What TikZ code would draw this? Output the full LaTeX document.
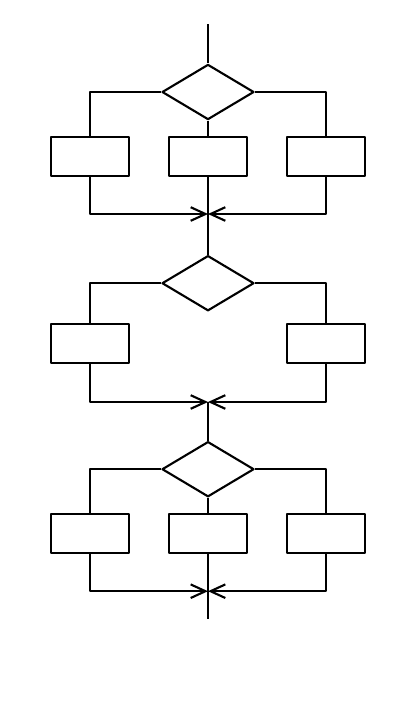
\documentclass[tikz,border=0pt]{standalone}
\usepackage{tikz}
\usetikzlibrary{shapes.geometric, arrows.meta}

\tikzset{
    block/.style={draw, rectangle, minimum width=1.95cm, minimum height=0.98cm, inner sep=0},
    decision/.style={draw, diamond, minimum width=2.3cm, minimum height=1.38cm, inner sep=0, aspect=1.67},
    merge/.style={-{Straight Barb[length=3.7mm, width=3.4mm]}},
}

\begin{document}
\begin{tikzpicture}[line width=1.5pt, line join=round]
    \useasboundingbox (0, 0) rectangle (10.5, -18);
    % First section: three branches
    \coordinate (in) at (5.2, -0.6);
    \node[decision] (D1) at (5.2, -2.3) {};
    \node[block] (L1) at (2.26, -3.91) {};
    \node[block] (M1) at (5.2, -3.91) {};
    \node[block] (R1) at (8.14, -3.91) {};
    \coordinate (J1) at (5.2, -5.35);
    \draw (in) -- (D1.north);
    \draw (D1.west) -| (L1.north);
    \draw (D1.east) -| (R1.north);
    \draw (D1.south) -- (M1.north);
    \draw[merge] (L1.south) |- (J1);
    \draw[merge] (R1.south) |- (J1);
    \draw (M1.south) -- (J1);
    % Second section: two branches
    \node[decision] (D2) at (5.2, -7.08) {};
    \node[block] (L2) at (2.26, -8.58) {};
    \node[block] (R2) at (8.14, -8.58) {};
    \coordinate (J2) at (5.2, -10.05);
    \draw (J1) -- (D2.north);
    \draw (D2.west) -| (L2.north);
    \draw (D2.east) -| (R2.north);
    \draw[merge] (L2.south) |- (J2);
    \draw[merge] (R2.south) |- (J2);
    % Third section: three branches
    \node[decision] (D3) at (5.2, -11.73) {};
    \node[block] (L3) at (2.26, -13.34) {};
    \node[block] (M3) at (5.2, -13.34) {};
    \node[block] (R3) at (8.14, -13.34) {};
    \coordinate (J3) at (5.2, -14.78);
    \coordinate (out) at (5.2, -15.48);
    \draw (J2) -- (D3.north);
    \draw (D3.west) -| (L3.north);
    \draw (D3.east) -| (R3.north);
    \draw (D3.south) -- (M3.north);
    \draw[merge] (L3.south) |- (J3);
    \draw[merge] (R3.south) |- (J3);
    \draw (M3.south) -- (J3) -- (out);
\end{tikzpicture}
\end{document}
